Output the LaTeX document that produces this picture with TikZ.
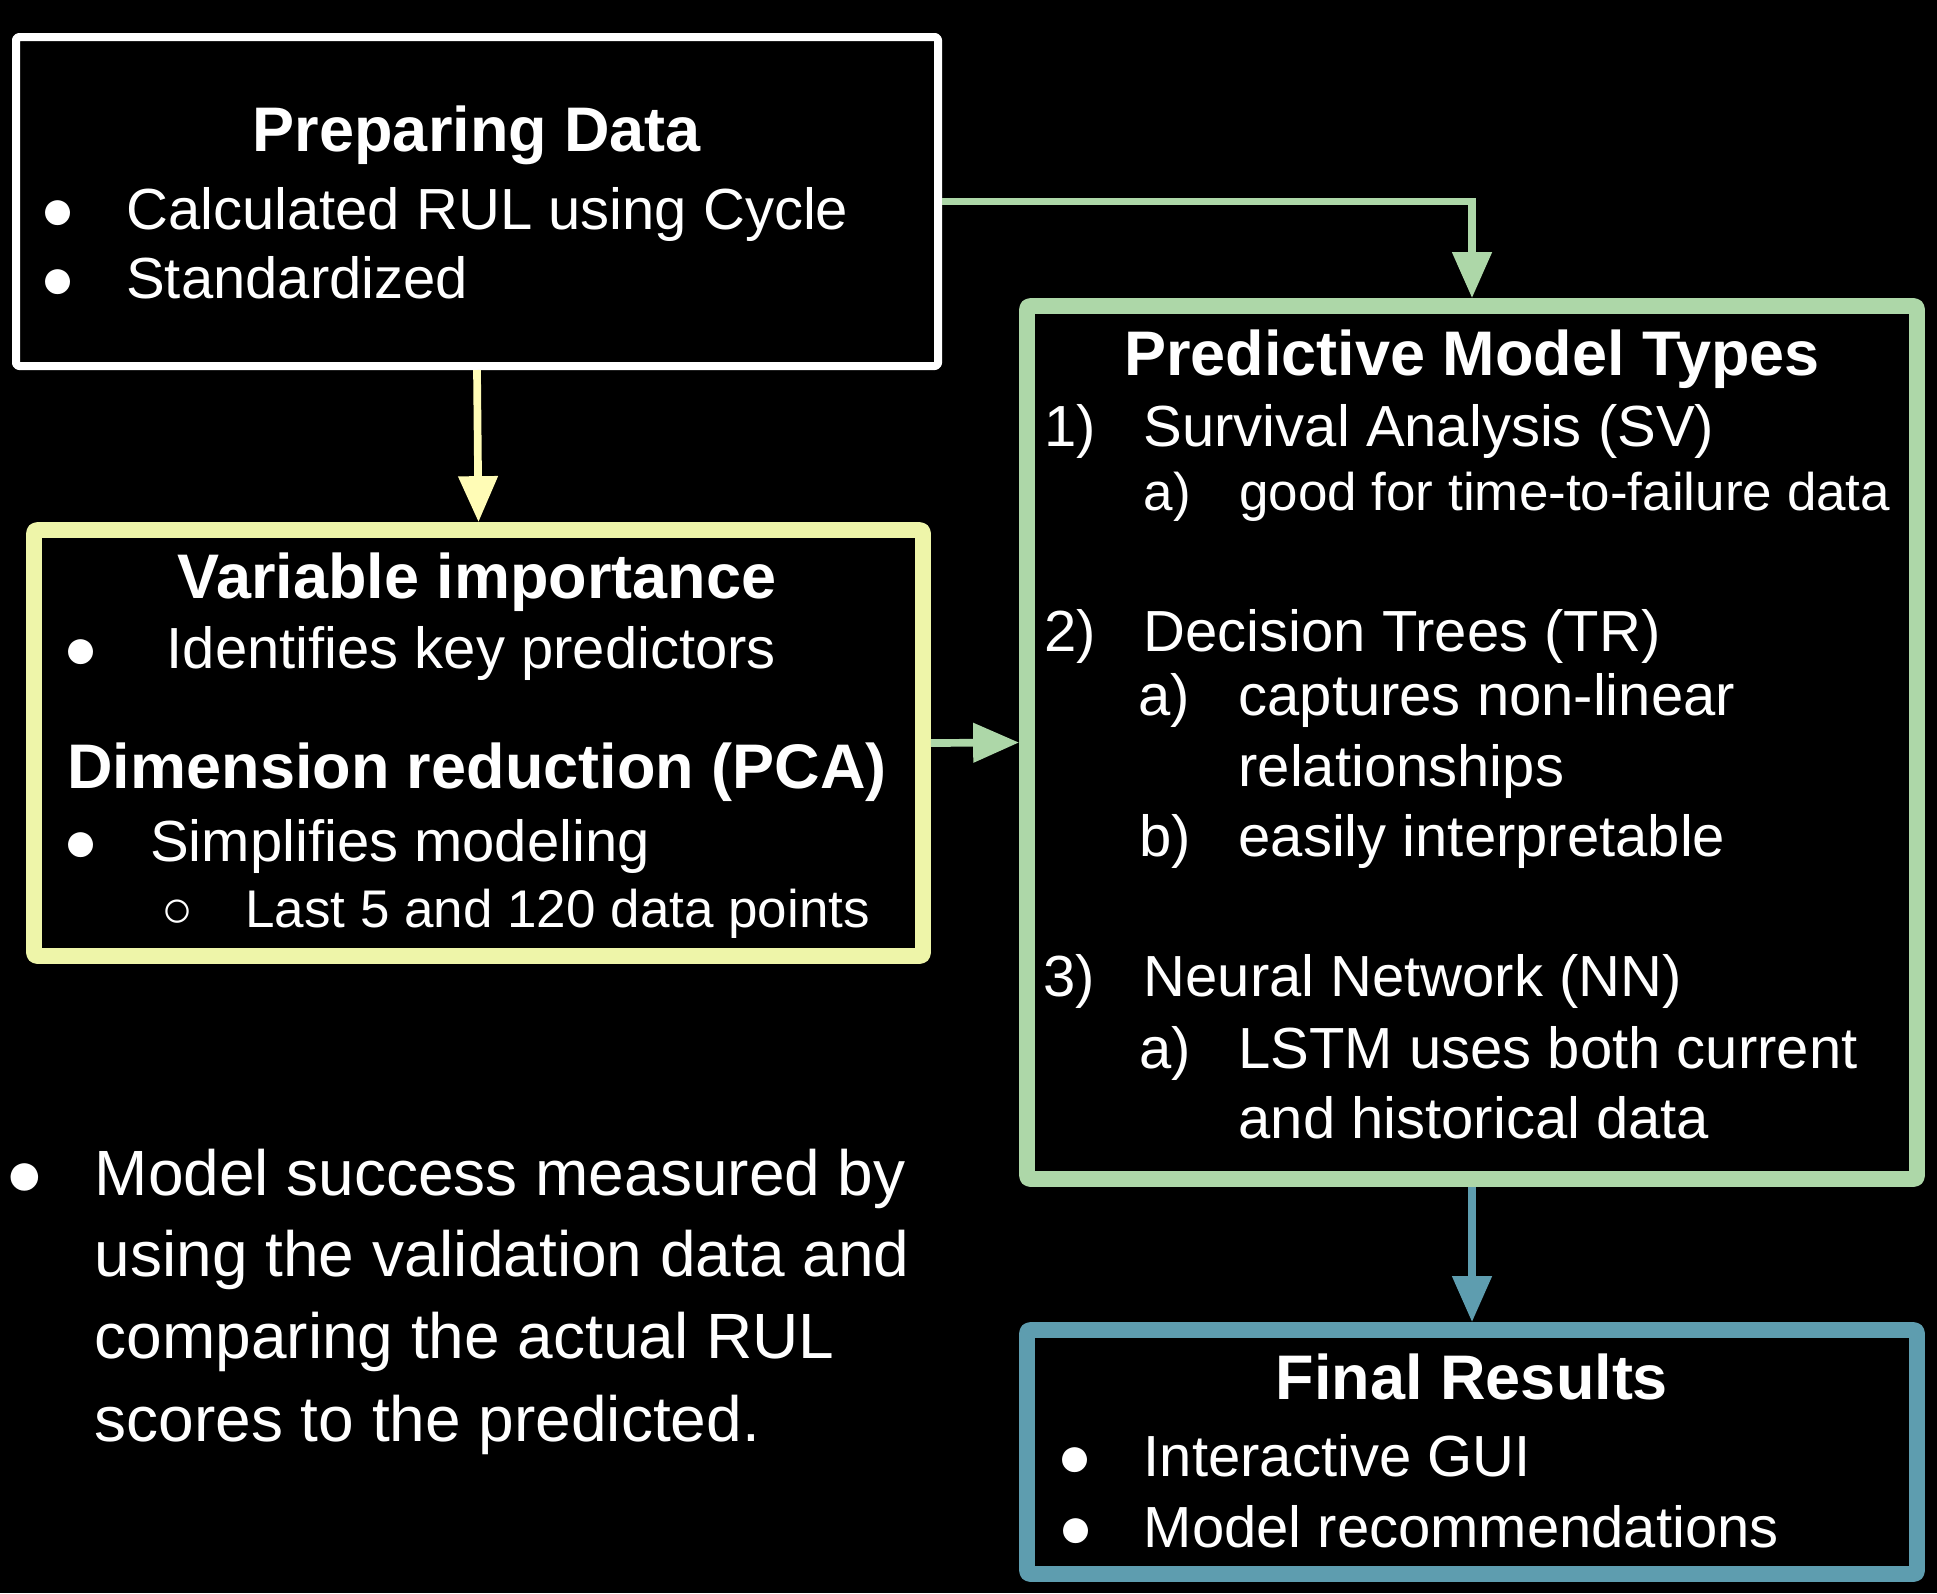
\documentclass[tikz,border=0pt]{standalone}
\usepackage{fontspec}
\setmainfont{Liberation Sans}
\usetikzlibrary{arrows.meta}
\definecolor{boxyellow}{HTML}{EEF5A9}
\definecolor{arrowyellow}{HTML}{FFFCB6}
\definecolor{boxgreen}{HTML}{ADD7A8}
\definecolor{boxblue}{HTML}{5E9DAF}
\begin{document}
\begin{tikzpicture}[x=1pt,y=-1pt,
  box/.style={draw, rectangle, rounded corners=3pt, line join=round, inner sep=0pt},
  ttl/.style={font=\fontsize{63}{70}\selectfont\bfseries, text=white, anchor=base, inner sep=0pt},
  itm/.style={font=\fontsize{58}{70}\selectfont, text=white, anchor=base west, inner sep=0pt},
  sitm/.style={font=\fontsize{53}{64}\selectfont, text=white, anchor=base west, inner sep=0pt},
  bitm/.style={font=\fontsize{64}{80}\selectfont, text=white, anchor=base west, inner sep=0pt},
  bul/.style={font=\fontsize{58}{70}\selectfont, text=white, anchor=base, inner sep=0pt},
  arr/.style={line width=7.7pt, -{Triangle[length=46pt,width=38pt]}},
]
\fill[black] (0,0) rectangle (1937,1593);
\useasboundingbox (0,0) rectangle (1937,1593);

% boxes
\node[box, draw=white, line width=8pt, minimum width=922pt, minimum height=329pt] (box1) at (477,201.5) {};
\node[box, draw=boxyellow, line width=15.7pt, minimum width=889pt, minimum height=426pt] (box2) at (478.5,743) {};
\node[box, draw=boxgreen, line width=15.7pt, minimum width=890pt, minimum height=873pt] (box3) at (1472,742.5) {};
\node[box, draw=boxblue, line width=15.7pt, minimum width=890pt, minimum height=244pt] (box4) at (1472,1452) {};

% connectors
\draw[arr, draw=arrowyellow] (box1.south) -- (box2.north);
\draw[arr, draw=boxgreen] (box1.east) -| (box3.north);
\draw[arr, draw=boxgreen] (box2.east) -- (box3.west);
\draw[arr, draw=boxblue] (box3.south) -- (box4.north);

% box 1 text
\node[ttl] (t1) at (477,151.5) {Preparing Data};
\node[bul] (t1b1) at (58,229.5) {●};
\node[itm] (t1i1) at (126,229.5) {Calculated RUL using Cycle};
\node[bul] (t1b2) at (58,298.5) {●};
\node[itm] (t1i2) at (126,298.5) {Standardized};

% box 2 text
\node[ttl] (t2) at (477,598.3) {Variable importance};
\node[bul] (t2b1) at (81.5,668.3) {●};
\node[itm] (t2i1) at (166.5,668.3) {Identifies key predictors};
\node[ttl] (t2c) at (477,788.3) {Dimension reduction (PCA)};
\node[bul] (t2b2) at (81.5,861.7) {●};
\node[itm] (t2i2) at (150,861.7) {Simplifies modeling};
\node[font=\fontsize{53}{64}\selectfont, text=white, anchor=base, inner sep=0pt] (t2b3) at (177.5,927.7) {○};
\node[sitm] (t2i3) at (245,927.7) {Last 5 and 120 data points};

% box 3 text
\node[ttl] (t3) at (1472,375) {Predictive Model Types};
\node[itm] (n1) at (1044,446.7) {1)};
\node[itm] (n1t) at (1143.5,446.7) {Survival Analysis (SV)};
\node[sitm] (n1a) at (1143.5,510) {a)};
\node[sitm] (n1at) at (1239,510) {good for time-to-failure data};
\node[itm] (n2) at (1044,651.7) {2)};
\node[itm] (n2t) at (1143.5,651.7) {Decision Trees (TR)};
\node[itm] (n2a) at (1138,715) {a)};
\node[itm] (n2at) at (1238.3,715) {captures non-linear};
\node[itm] (n2at2) at (1238.3,786) {relationships};
\node[itm] (n2b) at (1139,856.7) {b)};
\node[itm] (n2bt) at (1238.3,856.7) {easily interpretable};
\node[itm] (n3) at (1043,996.7) {3)};
\node[itm] (n3t) at (1143.5,996.7) {Neural Network (NN)};
\node[itm] (n3a) at (1139,1068) {a)};
\node[itm] (n3at) at (1238.3,1068) {LSTM uses both current};
\node[itm] (n3at2) at (1238.3,1138.7) {and historical data};

% box 4 text
\node[ttl] (t4) at (1472,1399.5) {Final Results};
\node[bul] (t4b1) at (1075,1476.8) {●};
\node[itm] (t4i1) at (1143.5,1476.8) {Interactive GUI};
\node[bul] (t4b2) at (1076,1547.5) {●};
\node[itm] (t4i2) at (1143.5,1547.5) {Model recommendations};

% free text
\node[font=\fontsize{64}{80}\selectfont, text=white, anchor=base, inner sep=0pt] (fb) at (24.5,1195) {●};
\node[bitm] (f1) at (94.5,1195) {Model success measured by};
\node[bitm] (f2) at (94.5,1276.7) {using the validation data and};
\node[bitm] (f3) at (94.5,1358.3) {comparing the actual RUL};
\node[bitm] (f4) at (94.5,1441.7) {scores to the predicted.};
\end{tikzpicture}
\end{document}
